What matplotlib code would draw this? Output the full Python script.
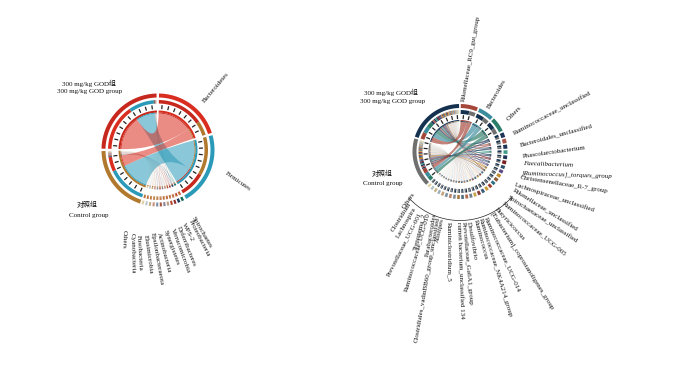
import numpy as np
import matplotlib
matplotlib.use('Agg')
import matplotlib.pyplot as plt
from matplotlib.patches import PathPatch, Polygon
from matplotlib.path import Path

plt.rcParams['font.family'] = ['Liberation Serif', 'Noto Sans CJK SC', 'DejaVu Sans']

# left chord: phyla
left_names = ['Bacteroidetes', 'Firmicutes', 'Spirochaetes', 'Proteobacteria', 'WPS-2', 'Deferribacteres',
              'Verrucomicrobia', 'Synergistetes', 'Actinobacteria', 'Epsilonbacteraeota', 'Elusimicrobia',
              'Fusobacteria', 'Cyanobacteria', 'Others']
left_arc = [72, 76, 2.6, 2.6, 2.2, 2.2, 2.2, 2.2, 2.2, 2.2, 2.2, 2.2, 2.2, 2.2]
left_god = [55, 30, 0.5, 0.8, 0.4, 0.3, 0.3, 0.2, 0.3, 0.2, 0.2, 0.2, 0.2, 0.3]
left_ctrl = [17, 46, 0.6, 0.7, 0.5, 0.6, 0.5, 0.6, 0.6, 0.6, 0.7, 0.6, 0.6, 0.7]
left_colors = ['#d92d20', '#2a9ab8', '#0e6b5b', '#1d3a5c', '#8f2a2a', '#b8432e', '#b89a86', '#8d7f92',
               '#a8553f', '#7d8ea3', '#c98f7a', '#c8b089', '#b9c4cc', '#e0cfa8']
left_group_arc = [71, 88]

# right chord: genera
right_names = ['Rikenellaceae_RC9_gut_group', 'Bacteroides', 'Others', 'Ruminococcaceae_unclassified',
               'Bacteroidales_unclassified', 'Phascolarctobacterium', 'Faecalibacterium',
               '[Ruminococcus]_torques_group', 'Christensenellaceae_R-7_group', 'Lachnospiraceae_unclassified',
               'Rikenellaceae_unclassified', 'Spirochaetaceae_unclassified', 'Ruminococcaceae_UCG-005',
               'Butyricicoccus', '[Eubacterium]_coprostanoligenes_group', 'Ruminococcaceae_UCG-014',
               'Ruminococcaceae_NK4A214_group', 'Ruminococcus', 'Desulfovibrio', 'Prevotellaceae_Ga6A1_group',
               'rumen bacterium_unclassified 134', 'Ruminiclostridium_5', 'Alistipes',
               'Clostridiales_vadinBB60_group_unclassified', 'Parabacteroides', 'Ruminococcaceae_UCG-010',
               'Treponema_2', 'Prevotellaceae_UCG-001', 'Lachnospira', 'Clostridium', 'Others']
right_arc = [21, 19, 18, 6, 5.5, 5, 4.5, 4.5, 4.5, 4, 4, 4, 4, 3.6, 3.6, 3.6, 3.6, 3.6, 3.4, 3.4, 3.4, 3.2,
             3.2, 3.2, 3.2, 3.2, 3, 3, 3, 3, 3]
right_god = [12, 11, 10, 3.5, 3, 2.2, 2.6, 2.2, 2.6, 2.2, 2, 1.6, 2, 1.8, 1.6, 2, 1.8, 1.8, 1.7, 1.3, 1.7,
             1.6, 1.5, 1.7, 1.5, 1.6, 1.5, 1.4, 1.5, 1.5, 1.4]
right_ctrl = [9, 8, 8, 2.5, 2.5, 2.8, 1.9, 2.3, 1.9, 1.8, 2, 2.4, 2, 1.8, 2, 1.6, 1.8, 1.8, 1.7, 2.1, 1.7,
              1.6, 1.7, 1.5, 1.7, 1.6, 1.5, 1.6, 1.5, 1.5, 1.6]
right_colors = ['#a5463a', '#3b8c9c', '#2b7c68', '#1e3558', '#a8564a', '#1e3558', '#3f9c8a', '#1e3558',
                '#7a1f24', '#2f4f6f', '#5d4a86', '#c08a2e', '#8b5a3c', '#2c6f82', '#a03f2f', '#c79a3a',
                '#3e5f7a', '#8a3a34', '#c9a24a', '#6e7f8f', '#b06a4a', '#4d6a7c', '#a8783c', '#7e8c96',
                '#b8846a', '#7d92a0', '#c2a078', '#9fb0b8', '#c8b48a', '#b5c5c5', '#e2d6a8']
right_group_arc = [60, 70]

group_names = [('对照组', 'Control group'), ('300 mg/kg GOD组', '300 mg/kg GOD group')]
left_group_colors = ['#b0792e', '#c7281d']
right_group_colors = ['#6f6f6f', '#14324f']


def pol(cx, cy, r, a):
    # a in degrees, clockwise from the top (y axis of the picture points down)
    t = np.radians(a)
    return cx + r * np.sin(t), cy - r * np.cos(t)


def band(ax, cx, cy, r1, r2, a1, a2, color):
    t = np.linspace(a1, a2, max(int(abs(a2 - a1)) + 2, 3))
    x1, y1 = pol(cx, cy, r2, t)
    x2, y2 = pol(cx, cy, r1, t[::-1])
    ax.add_patch(Polygon(np.c_[np.r_[x1, x2], np.r_[y1, y2]], fc=color, ec='none'))


def ribbon(ax, cx, cy, r, a, b, color, alpha):
    ta = np.linspace(a[0], a[1], max(int(abs(a[1] - a[0])) + 2, 3))
    tb = np.linspace(b[0], b[1], max(int(abs(b[1] - b[0])) + 2, 3))
    xa, ya = pol(cx, cy, r, ta)
    xb, yb = pol(cx, cy, r, tb)
    verts = [(xa[0], ya[0])] + [(x, y) for x, y in zip(xa[1:], ya[1:])]
    codes = [Path.MOVETO] + [Path.LINETO] * (len(xa) - 1)
    verts += [(cx, cy), (xb[0], yb[0])]
    codes += [Path.CURVE3, Path.CURVE3]
    verts += [(x, y) for x, y in zip(xb[1:], yb[1:])]
    codes += [Path.LINETO] * (len(xb) - 1)
    verts += [(cx, cy), (xa[0], ya[0])]
    codes += [Path.CURVE3, Path.CURVE3]
    ax.add_patch(PathPatch(Path(verts, codes), fc=color, ec='none', alpha=alpha, zorder=2))


def chord(ax, cx, cy, radii, arc, god, ctrl, colors, group_arc, group_colors, ctrl_order, god_order,
          start, gap_big, gap_small, n_big, tick_step, n_strong, strong_alpha, small_alpha):
    r_out, r_2nd, r_tick, r_rim = radii
    n = len(arc)
    gaps = [gap_big if i < n_big else gap_small for i in range(n)] + [gap_big, gap_big]
    scale = (360 - sum(gaps)) / (sum(arc) + sum(group_arc))
    # sector spans, clockwise
    spans = []
    a = start
    for w, g in zip(list(arc) + list(group_arc), gaps):
        spans.append((a, a + w * scale))
        a += w * scale + g
    sec_colors = list(colors) + list(group_colors)

    flows = np.c_[ctrl, god].astype(float)
    tax_slices = {}
    for i in range(n):
        s, e = spans[i]
        sh = flows[i] / flows[i].sum() * (e - s)
        order = [1, 0] if i != 1 else [0, 1]
        if n > 20:
            order = [1, 0]
        p = s
        for g in order:
            tax_slices[(i, g)] = (p, p + sh[g])
            p += sh[g]
    grp_slices = {}
    for g, order in enumerate([ctrl_order, god_order]):
        s, e = spans[n + g]
        tot = flows[:, g].sum()
        p = s
        for i in order:
            w = flows[i, g] / tot * (e - s)
            grp_slices[(i, g)] = (p, p + w)
            p += w

    # pale ones first, big ones over them
    for i in range(n)[::-1]:
        for g in range(2):
            al = strong_alpha if i < n_strong else small_alpha
            ribbon(ax, cx, cy, r_rim[0], tax_slices[(i, g)], grp_slices[(i, g)], colors[i], al)

    for k, (s, e) in enumerate(spans):
        band(ax, cx, cy, r_out[0], r_out[1], s, e, sec_colors[k])
        band(ax, cx, cy, r_rim[0] + 0.9, r_rim[1], s, e, sec_colors[k])
        if k < n_big or k >= n:
            ticks = np.arange(s + tick_step / 2, e, tick_step)
            x1, y1 = pol(cx, cy, r_tick[0], ticks)
            x2, y2 = pol(cx, cy, r_tick[1], ticks)
            ax.plot([x1, x2], [y1, y2], color='#222222', lw=0.9, solid_capstyle='butt', zorder=3)
    for (i, g), (s, e) in tax_slices.items():
        c = group_colors[g]
        band(ax, cx, cy, r_2nd[0], r_2nd[1], s, e, c)
        band(ax, cx, cy, r_rim[0], r_rim[0] + 0.9, s, e, c)
    for (i, g), (s, e) in grp_slices.items():
        band(ax, cx, cy, r_2nd[0], r_2nd[1], s, e, colors[i])
        band(ax, cx, cy, r_rim[0], r_rim[0] + 0.9, s, e, colors[i])


fig = plt.figure(figsize=(7, 3.71), dpi=100)
ax = fig.add_axes([0, 0, 1, 1])
ax.set_xlim(0, 700)
ax.set_ylim(371, 0)
ax.axis('off')

left_n = len(left_names)
chord(ax, 158, 150, ((52.5, 56.5), (46.5, 50), (41, 45), (36.5, 39.5)), left_arc, left_god, left_ctrl,
      left_colors, left_group_arc, left_group_colors,
      [1, 0] + list(range(2, left_n)), [0, 1] + list(range(2, left_n)),
      1, 2.5, 1.6, 2, 8.5, 2, 0.55, 0.3)

right_n = len(right_names)
chord(ax, 460, 151.5, ((43.5, 47.5), (37.5, 41.5), (32.5, 36.5), (29.5, 31.5)), right_arc, right_god, right_ctrl,
      right_colors, right_group_arc, right_group_colors,
      [2, 1, 0] + list(range(3, right_n)), list(range(right_n)),
      1, 2.2, 1.9, 3, 9, 13, 0.68, 0.2)

# arc above the labels at the bottom of the right chord
t = np.linspace(131, 228, 80)
x, y = pol(460, 151.5, 69, t)
ax.plot(x, y, color='#222222', lw=0.5, zorder=4)

txt = dict(fontsize=5, color='#111111', rotation_mode='anchor', va='center')

left_lab_xy = [(204, 102), (226, 173), (193, 217), (190, 220), (183, 223), (178, 226), (172, 228), (165, 230),
               (158, 233), (152, 233), (145, 235), (138, 235), (132, 233), (124, 230)]
left_lab_rot = [50, -35, -60, -63, -63, -68, -70, -70, -75, -80, -82, -87, -89, -92]
for name, xy, rot in zip(left_names, left_lab_xy, left_lab_rot):
    ax.text(xy[0], xy[1], name, rotation=rot, ha='left', **txt)

right_lab_xy = [(463, 102), (489, 108), (508, 120), (514, 134), (520, 146), (523, 157), (523, 164), (522, 173),
                (520, 178), (515, 184), (513, 190), (508, 197), (503, 202), (496, 208), (492, 213), (486, 217),
                (480, 218), (475, 220), (468, 222), (463, 222), (458, 222), (449, 222), (443, 218), (438, 217),
                (435, 213), (428, 213), (425, 213), (420, 212), (415, 208), (410, 203), (414, 193)]
right_lab_rot = [80, 60, 45, 28, 15, 8, -2, -2, -9, -18, -32, -33, -40, -48, -58, -66, -73, -75, -80, -85, -88,
                 -90, 78, 80, 80, 74, 76, 63, 60, 58, 55]
for k, (name, xy, rot) in enumerate(zip(right_names, right_lab_xy, right_lab_rot)):
    st = 'italic' if k in (6, 7) else 'normal'
    ax.text(xy[0], xy[1], name, rotation=rot, ha='right' if k >= 22 else 'left', style=st, **txt)

# group labels, CJK line on its own family so the glyphs keep their width
cjk = ['Noto Sans CJK SC', 'DejaVu Sans']
lab = dict(fontsize=5, color='#111111', ha='center', va='center')
ax.text(89, 83, group_names[1][0], **lab)
ax.text(90, 92, group_names[1][1], **lab)
ax.text(87, 205, group_names[0][0], family=cjk, **lab)
ax.text(89, 216, group_names[0][1], **lab)
ax.text(391, 92, group_names[1][0], **lab)
ax.text(393, 102, group_names[1][1], **lab)
ax.text(382, 174, group_names[0][0], family=cjk, **lab)
ax.text(383, 184, group_names[0][1], **lab)

fig.savefig('out.png', dpi=100)
